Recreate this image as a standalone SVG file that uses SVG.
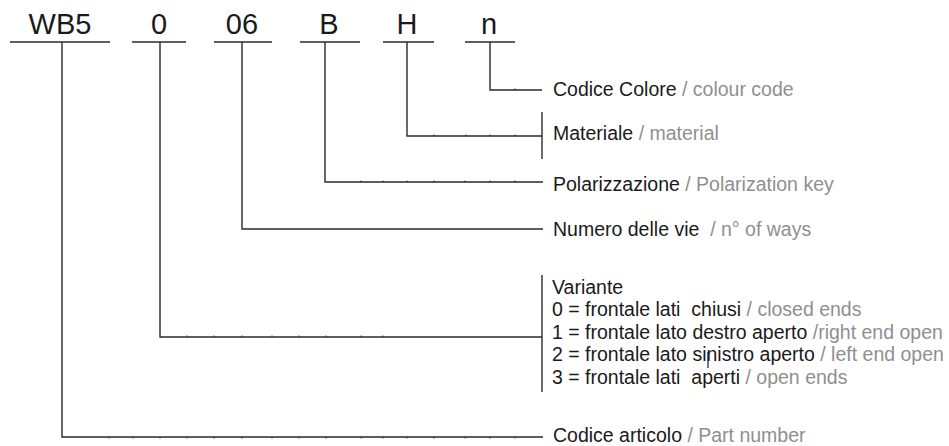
<svg xmlns="http://www.w3.org/2000/svg" width="949" height="446" viewBox="0 0 949 446">
<style>
.code{font-family:"Liberation Sans",Arial,sans-serif;font-size:29px;fill:#1a1a1a;text-anchor:middle}
.lbl{font-family:"Liberation Sans",Arial,sans-serif;font-size:19.5px;fill:#1a1a1a;white-space:pre}
.en{fill:#8f8f8f}
.ln{fill:none;stroke:#2a2a2a;stroke-width:1.4}
.tk{stroke:#2a2a2a;stroke-width:1}
</style>
<rect width="949" height="446" fill="#ffffff"/>
<g id="codes">
  <g id="code-wb5"><text class="code" x="60" y="34">WB5</text><line class="ln" x1="10" y1="42" x2="110" y2="42"/></g>
  <g id="code-0"><text class="code" x="159" y="34">0</text><line class="ln" x1="132" y1="42" x2="186" y2="42"/></g>
  <g id="code-06"><text class="code" x="242" y="34">06</text><line class="ln" x1="214" y1="42" x2="272" y2="42"/></g>
  <g id="code-b"><text class="code" x="329" y="34">B</text><line class="ln" x1="300" y1="42" x2="360" y2="42"/></g>
  <g id="code-h"><text class="code" x="407" y="34">H</text><line class="ln" x1="383" y1="42" x2="434" y2="42"/></g>
  <g id="code-n"><text class="code" x="489" y="34">n</text><line class="ln" x1="465" y1="42" x2="515" y2="42"/></g>
</g>
<g id="connectors">
  <polyline class="ln" points="490,42 490,90 542,90"/>
  <polyline class="ln" points="407,42 407,136 542,136"/>
  <polyline class="ln" points="325,42 325,182 543,182"/>
  <polyline class="ln" points="242,42 242,229 543,229"/>
  <polyline class="ln" points="160,42 160,337 542,337"/>
  <polyline class="ln" points="62,42 62,437 543,437"/>
  <line class="ln" x1="542" y1="112" x2="542" y2="159"/>
  <line class="ln" x1="542" y1="275" x2="542" y2="392"/>
  <g id="ticks">
    <line class="tk" x1="515" y1="88.5" x2="515" y2="90"/>
    <line class="tk" x1="434" y1="134.5" x2="434" y2="136"/>
    <line class="tk" x1="466" y1="134.5" x2="466" y2="136"/>
    <line class="tk" x1="490" y1="134.5" x2="490" y2="136"/>
    <line class="tk" x1="515" y1="134.5" x2="515" y2="136"/>
    <line class="tk" x1="361" y1="180.5" x2="361" y2="182"/>
    <line class="tk" x1="383" y1="180.5" x2="383" y2="182"/>
    <line class="tk" x1="407" y1="180.5" x2="407" y2="182"/>
    <line class="tk" x1="434" y1="180.5" x2="434" y2="182"/>
    <line class="tk" x1="465" y1="180.5" x2="465" y2="182"/>
    <line class="tk" x1="490" y1="180.5" x2="490" y2="182"/>
    <line class="tk" x1="515" y1="180.5" x2="515" y2="182"/>
    <line class="tk" x1="187" y1="335.5" x2="187" y2="337"/>
    <line class="tk" x1="214" y1="335.5" x2="214" y2="337"/>
    <line class="tk" x1="242" y1="335.5" x2="242" y2="337"/>
    <line class="tk" x1="272" y1="335.5" x2="272" y2="337"/>
    <line class="tk" x1="299" y1="335.5" x2="299" y2="337"/>
    <line class="tk" x1="326" y1="335.5" x2="326" y2="337"/>
    <line class="tk" x1="361" y1="335.5" x2="361" y2="337"/>
    <line class="tk" x1="383" y1="335.5" x2="383" y2="337"/>
    <line class="tk" x1="109" y1="437" x2="109" y2="438.5"/>
    <line class="tk" x1="133" y1="437" x2="133" y2="438.5"/>
    <line class="tk" x1="160" y1="437" x2="160" y2="438.5"/>
    <line class="tk" x1="187" y1="437" x2="187" y2="438.5"/>
    <line class="tk" x1="214" y1="437" x2="214" y2="438.5"/>
    <line class="tk" x1="242" y1="437" x2="242" y2="438.5"/>
    <line class="tk" x1="272" y1="437" x2="272" y2="438.5"/>
    <line class="tk" x1="299" y1="437" x2="299" y2="438.5"/>
    <line class="tk" x1="326" y1="437" x2="326" y2="438.5"/>
    <line class="tk" x1="361" y1="437" x2="361" y2="438.5"/>
    <line class="tk" x1="383" y1="437" x2="383" y2="438.5"/>
    <line class="tk" x1="407" y1="437" x2="407" y2="438.5"/>
    <line class="tk" x1="434" y1="437" x2="434" y2="438.5"/>
    <line class="tk" x1="465" y1="437" x2="465" y2="438.5"/>
    <line class="tk" x1="490" y1="437" x2="490" y2="438.5"/>
    <line class="tk" x1="515" y1="437" x2="515" y2="438.5"/>
  </g>
</g>
<g id="label-colour"><text class="lbl" x="553" y="96">Codice Colore <tspan class="en">/ colour code</tspan></text></g>
<g id="label-material"><text class="lbl" x="553" y="140">Materiale <tspan class="en">/ material</tspan></text></g>
<g id="label-polarization"><text class="lbl" x="553" y="191">Polarizzazione <tspan class="en">/ Polarization key</tspan></text></g>
<g id="label-ways"><text class="lbl" x="553" y="236">Numero delle vie  <tspan class="en">/ n° of ways</tspan></text></g>
<g id="label-variant">
  <text class="lbl" x="552" y="294">Variante</text>
  <text class="lbl" x="552" y="316">0 = frontale lati  chiusi <tspan class="en">/ closed ends</tspan></text>
  <text class="lbl" x="552" y="339">1 = frontale lato destro aperto <tspan class="en">/right end open</tspan></text>
  <text class="lbl" x="552" y="361">2 = frontale lato sinistro aperto <tspan class="en">/ left end open</tspan></text>
  <text class="lbl" x="552" y="384">3 = frontale lati  aperti <tspan class="en">/ open ends</tspan></text>
  <line x1="708" y1="352" x2="708" y2="368" stroke="#1a1a1a" stroke-width="1.2"/>
</g>
<g id="label-part"><text class="lbl" x="553" y="442">Codice articolo <tspan class="en">/ Part number</tspan></text></g>
</svg>
